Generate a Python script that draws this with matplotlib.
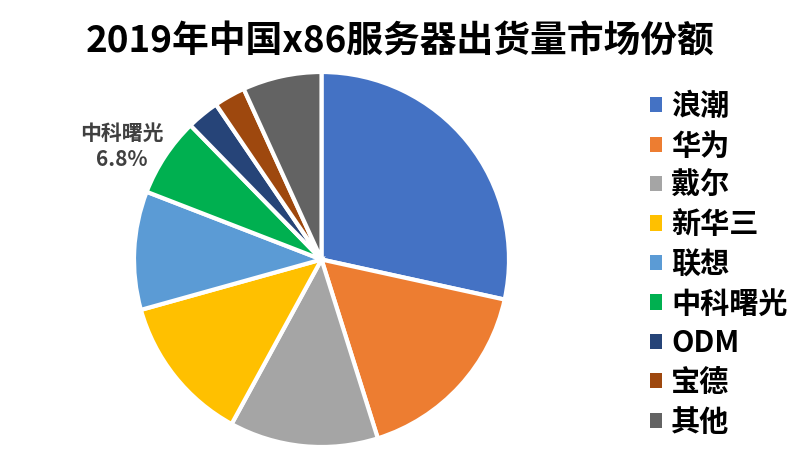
import matplotlib
matplotlib.use("Agg")
import matplotlib.pyplot as plt
from matplotlib.patches import Patch

plt.rcParams['font.family'] = ['Noto Sans CJK SC', 'DejaVu Sans']

categories = ['浪潮', '华为', '戴尔', '新华三', '联想', '中科曙光', 'ODM', '宝德', '其他']
shares = [28.4, 16.7, 12.8, 12.7, 10.2, 6.8, 2.8, 2.7, 6.8]
colors = ['#4472C4', '#ED7D31', '#A5A5A5', '#FFC000', '#5B9BD5', '#00B050', '#264478', '#9E480E', '#636363']
title = '2019年中国x86服务器出货量市场份额'

W, H = 802, 449
fig = plt.figure(figsize=(W/100, H/100), dpi=100)
cx, cy, r = 321.5, 259.5, 187.5
ax = fig.add_axes([(cx - r)/W, (H - cy - r)/H, 2*r/W, 2*r/H])
wedges, _ = ax.pie(shares, colors=colors, startangle=90, counterclock=False, radius=1,
                   wedgeprops=dict(edgecolor='white', linewidth=3))
ax.set_xlim(-1, 1)
ax.set_ylim(-1, 1)
ax.set_aspect('equal')
ax.axis('off')

# data label for 中科曙光
idx = categories.index('中科曙光')
ax.text(-1.064, 0.675, categories[idx], ha='center', va='center', fontsize=15,
        fontweight='heavy', color='#404040', clip_on=False)
ax.text(-1.064, 0.531, f'{shares[idx]}%', ha='center', va='center', fontsize=15,
        fontweight='heavy', color='#404040', clip_on=False)

fig.text(400/W, 1 - 42/H, title, ha='center', va='center', fontsize=26.5, fontweight='heavy',
         color='black')

handles = [Patch(facecolor=c, edgecolor='none') for c in colors]
fig.legend(handles, categories, loc='upper left', bbox_to_anchor=(650/W, 1 - 91/H),
           frameon=False, handlelength=0.42, handleheight=0.42,
           handletextpad=0.3, labelspacing=0.325, borderaxespad=0, borderpad=0,
           prop=dict(weight='heavy', size=21))

fig.savefig('out.png', dpi=100)
